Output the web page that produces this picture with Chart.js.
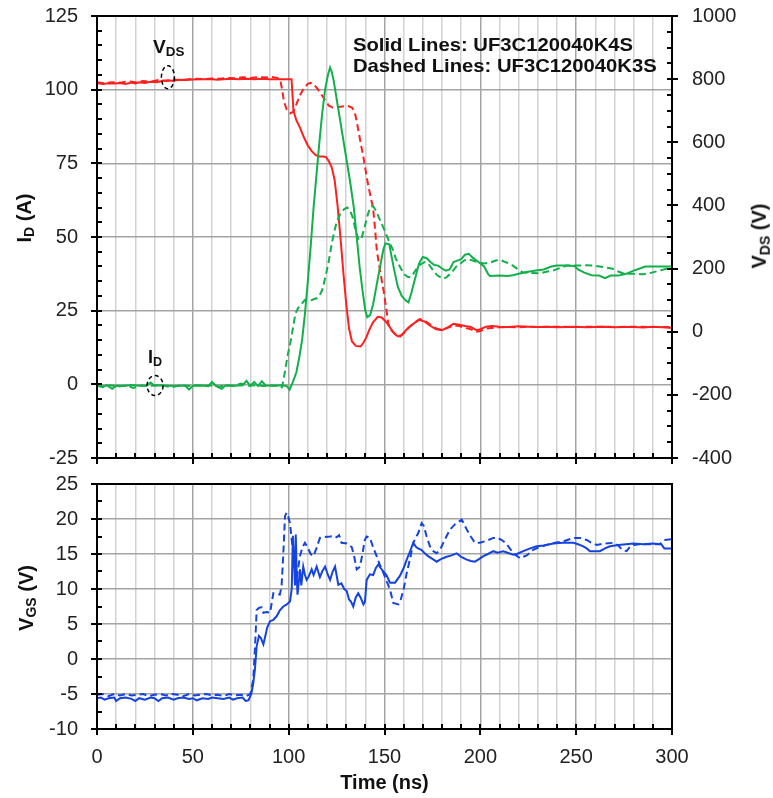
<!DOCTYPE html>
<html>
<head>
<meta charset="utf-8">
<script src="https://cdn.jsdelivr.net/npm/chart.js@4.4.0/dist/chart.umd.min.js"></script>
<style>
  body { margin: 0; background: #fff; }
  #wrap { position: relative; width: 773px; height: 798px; font-family: "Liberation Sans", Arial, sans-serif; color: #111; }
  canvas { position: absolute; left: 0; }
  .lbl { position: absolute; font-weight: bold; white-space: nowrap; line-height: 1; }
  .lbl sub { font-size: 0.7em; vertical-align: -0.25em; }
  .rot { transform: translate(-50%, -50%) rotate(-90deg); }
  .wide { transform: scaleX(1.065); transform-origin: left top; }
</style>
</head>
<body>
<div id="wrap">
  <canvas id="topChart" width="773" height="470" style="top:0"></canvas>
  <canvas id="botChart" width="773" height="328" style="top:470px"></canvas>

  <div class="lbl rot" style="left:25px; top:218px; font-size:20px;">I<sub>D</sub> (A)</div>
  <div class="lbl rot" style="left:760px; top:236px; font-size:20px;">V<sub>DS</sub> (V)</div>
  <div class="lbl rot" style="left:27px; top:598px; font-size:20px;">V<sub>GS</sub> (V)</div>

  <div class="lbl wide" style="left:153px; top:38px; font-size:18px;">V<sub>DS</sub></div>
  <div class="lbl" style="left:148px; top:348px; font-size:18px;">I<sub>D</sub></div>

  <div class="lbl wide" style="left:353px; top:35px; font-size:19px;">Solid Lines: UF3C120040K4S</div>
  <div class="lbl wide" style="left:353px; top:56px; font-size:19px;">Dashed Lines: UF3C120040K3S</div>
</div>

<script>
/* ---------- data: [time ns, value] ---------- */

// V_DS (V), right axis of the upper plot
const vdsSolid = [[0,788],[3,785],[6,787],[9,786],[12,788],[15,785],[18,789],[20,786],[22,790],[25,788],[28,792],[31,790],[34,794],[37,796],[40,795],[43,798],[46,797],[50,799],[55,800],[60,800],[63,798],[66,800],[70,801],[74,800],[78,801],[82,800],[86,801],[90,800],[94,800],[98,800],[101.5,800],[102.5,700],[104,670],[106,645],[108,615],[110,590],[112,572],[114,560],[116,555],[118,555],[119.5,553],[121,540],[122.5,520],[124,480],[125.5,400],[127,300],[128.5,190],[130,90],[131.5,10],[133,-30],[135,-45],[137.5,-47],[139,-35],[140.5,-18],[142,5],[144,30],[146.5,47],[148.5,45],[151,30],[153,12],[155.5,-8],[157,-15],[159,-10],[162,10],[165,25],[168,38],[171,32],[174,18],[177,8],[180,5],[183,14],[186,25],[189,22],[192,18],[195,15],[198,5],[200,8],[203,16],[206,18],[210,16],[215,15],[220,17],[225,16],[230,15],[235,16],[240,14],[245,15],[250,16],[255,14],[260,15],[265,16],[270,14],[275,15],[280,15],[285,13],[290,16],[295,14],[300,12]];

const vdsDashed = [[0,790],[4,787],[8,790],[12,789],[16,793],[20,790],[24,794],[28,792],[32,797],[36,795],[40,799],[44,797],[48,800],[52,801],[56,800],[60,802],[64,801],[68,804],[72,803],[76,806],[80,804],[84,806],[88,805],[91,807],[94,804],[95.5,800],[96.5,770],[97.5,730],[99,703],[101,692],[102.5,697],[104,720],[106,750],[108,772],[110,785],[111.5,788],[113,784],[115,770],[117,752],[119,733],[121,716],[123,710],[126,712],[129,714],[131,715],[133,710],[134.5,695],[136,650],[137.5,600],[139,553],[141,480],[143,420],[144,394],[145,330],[146,257],[147.5,200],[149.5,130],[151,70],[152,25],[153.5,5],[155,-5],[158,-16],[160,-5],[163,15],[166,30],[168.5,40],[171,35],[174,22],[177,10],[180,6],[183,12],[186,20],[189,18],[192,12],[195,8],[198,0],[200,2],[203,10],[206,12],[210,14],[215,15],[220,14],[225,16],[230,15],[240,16],[250,15],[260,16],[270,15],[280,16],[290,15],[300,15]];

// I_D (A), left axis of the upper plot
const idSolid = [[0,-0.5],[3,-1],[5,-0.3],[8,-1.5],[10,-0.5],[14,-0.6],[18,-0.2],[22,-0.5],[26,-0.4],[28,0.6],[30,-0.5],[33,-0.3],[37,-0.5],[42,-0.6],[46,-0.4],[48,-1.8],[50,-0.5],[55,-0.4],[58,-0.6],[60,0.8],[62,-0.5],[65,-1.5],[67,-0.4],[72,-0.5],[76,-0.3],[78,1.2],[80,-0.5],[82,0.8],[84,-0.6],[86,1.0],[88,-0.4],[92,-0.5],[96,-0.3],[99,-0.6],[100.5,-1.8],[102,0.5],[104,4],[105.5,9],[107,15],[108.5,24],[110,35],[111.5,47],[113,60],[114.5,71],[116,82],[117.5,92],[119,100],[120.5,105],[121.6,107.5],[122.5,106],[123.5,103],[125,97],[126.5,91],[128,85],[130,77],[132,69],[134,60],[135.5,50],[137,40],[138.5,32],[140,25],[141,22.8],[142.5,23.5],[144,27],[146,34],[148,41],[149.5,46],[150.5,47.8],[152.5,47.5],[153.5,44],[155,39],[157,33],[159,30],[161,28.5],[162.5,27.8],[164,31],[166,36],[168,41],[170,43.2],[172,42.8],[174,41.5],[176,40.5],[178,40.3],[180,39.3],[182,38.6],[184,39],[186,41.5],[188,42],[190,42.5],[192,44],[194,44.3],[196,43],[198,42],[200,41],[202,40],[204,37.5],[205,36.8],[210,36.9],[214,36.8],[217,37],[220,37.5],[225,38.2],[229,38.6],[233,39],[237,40],[240,40.3],[245,40.3],[249,40.2],[251,39],[254,38],[258,37],[262,36.9],[265,36],[268,36.9],[272,36.9],[276,37.5],[280,38.6],[284,39.5],[286,40],[290,40],[295,40],[300,40]];

const idDashed = [[0,-0.4],[4,-0.7],[7,-0.3],[11,-0.8],[15,-0.4],[19,-1.2],[23,-0.4],[27,-0.6],[31,-0.3],[35,-0.5],[39,-1.0],[43,-0.4],[47,-0.6],[51,-0.3],[56,-0.5],[60,-0.4],[64,-0.7],[68,-0.3],[72,-0.6],[75,0.3],[79,-0.5],[83,-0.3],[87,-0.6],[91,-0.4],[95,-0.5],[96.5,-1],[98,4],[99.5,10],[101,14.5],[102.5,20],[103.5,24],[105,26],[106.8,27.3],[108.5,28.7],[110,28.5],[112,28.6],[114.6,29.2],[116,30],[117.5,32],[119,36],[120.7,41],[122,46],[123.5,51],[125,55],[127,58],[129,59.5],[130.5,60],[132,59],[133.5,56.5],[135,52],[136.5,49],[138,49.5],[139.5,53],[141,57],[142.5,60],[144,60.5],[145.5,59],[147.5,56],[149.5,53],[151.5,50],[153,47.5],[154.6,45.4],[156,42.5],[158,40],[160,37.5],[162,36.5],[163.5,36.3],[165,37.5],[167,39.5],[169,40.8],[171,41.5],[173,40.8],[175,39],[177.5,37],[180.5,35.8],[182.5,36.4],[185,38],[187.5,40],[189.5,40.9],[191.5,42],[193.5,42.5],[196,42],[199,41.4],[202,41],[205,41.3],[208,42],[210.5,42.2],[213,41.5],[215.5,40.9],[218,39.8],[222,38],[226,37.8],[231,37.7],[235,38.3],[238,38.6],[242,39.6],[245,40.3],[250,40.3],[255,40.4],[259,40.3],[264,39.8],[269,39.2],[272,38.3],[275,37.5],[280,37.5],[284,37.4],[287,37.5],[290,38],[293.5,38.6],[297,39.2],[300,39.7]];

// V_GS (V), lower plot
const vgsSolid = [[0,-5.6],[2,-5.5],[4,-5.8],[6,-5.6],[9,-5.5],[10,-6.0],[12,-5.6],[15,-5.5],[18,-5.7],[20,-6.0],[22,-5.6],[25,-5.8],[28,-5.5],[30,-5.6],[32,-6.0],[34,-5.6],[37,-5.5],[40,-5.8],[42,-5.6],[45,-5.5],[48,-5.7],[50,-5.6],[52,-5.9],[55,-5.6],[58,-5.7],[60,-5.5],[63,-5.6],[66,-5.7],[69,-5.5],[71,-5.8],[73,-5.6],[76,-5.5],[77.5,-6.0],[79,-5.9],[80.5,-5.0],[81.5,-3.5],[82.4,-1.5],[83.3,1.8],[84.5,3.3],[85.5,3.0],[86.8,2.1],[88,3.5],[88.8,4.5],[90.3,5.4],[92,5.6],[93.7,6.1],[95.5,7.0],[97.2,7.5],[99,7.8],[100.7,8.2],[101.6,10],[102.2,17.6],[102.8,14],[103.3,10.5],[103.7,17.8],[104.2,12],[104.6,9.2],[105.3,11],[105.9,12.8],[106.6,10.5],[107.6,13.2],[108.5,12],[109.4,11.3],[110.5,11.8],[112,12.8],[113,12],[114.6,13.2],[116.3,11.7],[117.5,12.5],[119,13.2],[120.5,12],[121.6,11.3],[123,12.5],[124.2,13.2],[125.9,10.6],[127.5,10.8],[129,10],[130.3,9.7],[131.5,8.5],[132.5,8.2],[133.7,7.5],[135,8.8],[136.3,9.4],[137.5,8.8],[139,7.8],[139.8,8.2],[140.7,11.3],[142.4,12.1],[144.1,12],[145.5,13],[146.8,13.5],[148,13],[149.4,12.5],[151,12],[152.9,10.9],[155.5,10.9],[158.1,11.9],[160,13],[161.6,14.2],[163.5,15.5],[165,16.6],[166.5,16.0],[167.5,15.8],[169.2,15.6],[171,15.1],[172.7,14.7],[175,14.3],[177.2,13.9],[179,14.2],[180.5,14.4],[182.4,14.6],[185,14.8],[187.6,15.1],[190,14.6],[192.9,14.2],[195,14],[197.2,13.9],[199.5,14.3],[201.6,14.7],[204,15],[206.8,15.4],[209,15.2],[212,15.4],[215,15.1],[217.2,14.9],[219,15],[222.4,15.4],[226,15.8],[229.4,16.1],[233,16.2],[238.1,16.5],[243,16.6],[248.5,16.6],[251,16.4],[253.7,16.1],[255.5,15.8],[257.2,15.4],[260,15.4],[262.4,15.4],[265,15.8],[267.6,16.1],[272,16.3],[276,16.4],[279.8,16.5],[285,16.4],[290,16.5],[294.4,16.4],[296,15.8],[300,15.8]];

const vgsDashed = [[0,-5.1],[3,-5.0],[6,-5.3],[9,-5.0],[12,-5.2],[15,-5.0],[18,-5.2],[21,-5.1],[24,-5.0],[27,-5.3],[30,-5.1],[33,-5.0],[36,-5.2],[39,-5.0],[42,-5.1],[45,-5.3],[48,-5.0],[51,-5.2],[54,-5.1],[57,-5.0],[60,-5.2],[63,-5.1],[66,-5.3],[69,-5.0],[72,-5.2],[75,-5.1],[78,-5.3],[80,-5.0],[81.5,-3],[82.5,2],[83.3,7.0],[84.5,7.3],[85.9,7.4],[86.8,6.6],[88.5,6.7],[90.3,6.6],[92,9.4],[93.7,9.3],[95.4,9.2],[96.3,10.4],[97.2,15],[98.1,20.4],[98.9,20.9],[99.8,20.3],[100.7,19.4],[101.6,17],[102.4,15.1],[103.3,13],[104.1,11.3],[105,13],[105.9,14.7],[107.2,16],[108.5,16.6],[110.3,15.7],[111.5,15],[112.9,14.7],[114.5,15.8],[116.3,17.3],[118,17.4],[121.6,17.5],[123.5,17.6],[125,17.4],[126.3,17.7],[127.6,16.6],[130.3,16.5],[132.9,16],[134.3,14.5],[135.5,12.8],[137.2,13.2],[138.5,15],[139.7,17],[140.7,17.5],[142.4,17.3],[144,16],[145.9,14.7],[147.5,13.5],[149.4,12.3],[151,11.2],[152.9,9.9],[154.6,8.0],[157.2,7.8],[158.5,8.5],[160,10],[161.6,12.3],[163.5,14.5],[165,16.6],[167.6,18],[169.4,19.4],[170.5,19.0],[172,17.5],[173.7,16.1],[175.5,15.4],[177.2,15.1],[179,15.6],[181,16.8],[184.2,18.5],[187,19.3],[190.3,19.9],[191.5,19.3],[192.9,18.5],[195,17.5],[197.2,16.6],[199.8,16.6],[203.3,16.9],[206.8,17.3],[209,17.3],[211.2,17.0],[213,16.6],[214.6,16.1],[217.2,15.1],[220.7,14.4],[222.5,14.6],[224.2,14.8],[227.6,15.6],[231,16],[234.6,16.3],[239,16.6],[243.3,16.8],[248.5,17.3],[252,17.3],[255.5,17.0],[258,16.6],[260.7,16.3],[265,16.5],[269.4,16.6],[272,16.2],[274,15.6],[276.3,15.4],[278,16],[279.8,16.3],[283,16.4],[286.7,16.4],[290,16.4],[293.6,16.4],[296,17.0],[300,17.1]];

// axis ranges and tick steps
const xRange = [0, 300],     xMajor = 50,  xMinor = 10;
const idRange = [-25, 125],  idMajor = 25, idMinor = 5;
const vdsRange = [-400, 1000], vdsMajor = 200, vdsMinor = 50;
const vgsRange = [-10, 25],  vgsMajor = 5, vgsMinor = 2.5;

// dashed circles marking which trace belongs to which axis: [time, value, axis]
const circleMarks = [[37, 806, 'y2'], [30.3, -0.4, 'y']];

/* ---------- styling ---------- */
const RED = '#ff1f1f', GREEN = '#12b04a', BLUE = '#1443e0';
const FONT = '"Liberation Sans", Arial, sans-serif';
const GRID_MINOR = '#d2d2d2', GRID_MAJOR = '#a4a4a4';
const PLOT_LEFT = 97, PLOT_RIGHT = 672;

const pts = arr => arr.map(([x, y]) => ({ x, y }));
const isMul = (v, m) => Math.abs(v / m - Math.round(v / m)) < 1e-6;

/* frame around the plot area plus inward minor / crossing major tick marks */
const frameTicks = {
  id: 'frameTicks',
  afterDatasetsDraw(chart, args, opts) {
    const { ctx, chartArea: a } = chart;
    ctx.save();
    ctx.strokeStyle = '#000';
    ctx.lineWidth = 2;
    (opts.marks || []).forEach(m => {
      const s = chart.scales[m.id];
      for (let v = s.min; v <= s.max + 1e-9; v += m.minor) {
        const major = isMul(v, m.major);
        const p = Math.round(s.getPixelForValue(v));
        const inn = 5, out = major ? 6 : 0;
        ctx.beginPath();
        if (m.side === 'bottom') { ctx.moveTo(p, a.bottom - inn); ctx.lineTo(p, a.bottom + out); }
        else if (m.side === 'left') { ctx.moveTo(a.left - out, p); ctx.lineTo(a.left + inn, p); }
        else { ctx.moveTo(a.right + out, p); ctx.lineTo(a.right - inn, p); }
        ctx.stroke();
      }
    });
    ctx.strokeRect(a.left, a.top, a.right - a.left, a.bottom - a.top);

    // dashed ellipses
    (opts.circles || []).forEach(([t, v, axis]) => {
      const cx = chart.scales.x.getPixelForValue(t);
      const cy = chart.scales[axis].getPixelForValue(v);
      ctx.lineWidth = 1.5;
      ctx.setLineDash([4, 3]);
      ctx.beginPath();
      ctx.ellipse(cx, cy, axis === 'y2' ? 6.5 : 8, axis === 'y2' ? 11.5 : 10, 0, 0, Math.PI * 2);
      ctx.stroke();
      ctx.setLineDash([]);
    });
    ctx.restore();
  }
};

function xScale(showLabels, height) {
  return {
    type: 'linear', min: xRange[0], max: xRange[1],
    afterFit: s => { s.height = height; },
    border: { display: false },
    grid: {
      drawTicks: false, lineWidth: 1.5,
      color: c => isMul(c.tick.value, xMajor) ? GRID_MAJOR : GRID_MINOR
    },
    ticks: {
      display: showLabels, stepSize: xMinor, autoSkip: false, maxRotation: 0,
      padding: 16, color: '#222', font: { family: FONT, size: 20 },
      callback: v => isMul(v, xMajor) ? String(v) : ''
    },
    title: {
      display: showLabels, text: 'Time (ns)', color: '#111',
      font: { family: FONT, size: 20, weight: 'bold' }, padding: { top: 0, bottom: 3 }
    }
  };
}

// vertical axes: fixed width, and no label overhang padding so the plot area is exact
function yScale(range, step, side, width, pad) {
  return {
    type: 'linear', position: side, min: range[0], max: range[1],
    afterFit: s => { s.width = width; s.paddingTop = 0; s.paddingBottom = 0; },
    border: { display: false },
    grid: { drawTicks: false, lineWidth: 1.5, color: GRID_MAJOR, drawOnChartArea: side === 'left' },
    ticks: {
      stepSize: step, padding: pad, color: '#222', font: { family: FONT, size: 20 },
      callback: v => String(v)
    }
  };
}

const lineDs = (data, color, axis, dashed) => ({
  data: pts(data), yAxisID: axis,
  borderColor: color, borderWidth: 2, borderDash: dashed ? [7, 4] : [],
  pointRadius: 0, tension: 0, fill: false
});

const common = {
  responsive: false, animation: false,
  plugins: { legend: { display: false }, tooltip: { enabled: false } },
  events: []
};

/* ---------- upper plot: I_D and V_DS ---------- */
new Chart(document.getElementById('topChart'), {
  type: 'line',
  data: {
    datasets: [
      lineDs(idSolid, GREEN, 'y', false),
      lineDs(idDashed, GREEN, 'y', true),
      lineDs(vdsSolid, RED, 'y2', false),
      lineDs(vdsDashed, RED, 'y2', true)
    ]
  },
  options: Object.assign({}, common, {
    layout: { padding: { top: 16, bottom: 0, left: 0, right: 0 } },
    scales: {
      x: xScale(false, 12),
      y: yScale(idRange, idMajor, 'left', PLOT_LEFT, 19),
      y2: yScale(vdsRange, vdsMajor, 'right', 773 - PLOT_RIGHT, 20)
    },
    plugins: Object.assign({}, common.plugins, {
      frameTicks: {
        marks: [
          { id: 'x', side: 'bottom', major: xMajor, minor: xMinor },
          { id: 'y', side: 'left', major: idMajor, minor: idMinor },
          { id: 'y2', side: 'right', major: vdsMajor, minor: vdsMinor }
        ],
        circles: circleMarks
      }
    })
  }),
  plugins: [frameTicks]
});

/* ---------- lower plot: V_GS ---------- */
new Chart(document.getElementById('botChart'), {
  type: 'line',
  data: {
    datasets: [
      lineDs(vgsSolid, BLUE, 'y', false),
      lineDs(vgsDashed, BLUE, 'y', true)
    ]
  },
  options: Object.assign({}, common, {
    layout: { padding: { top: 14, bottom: 0, left: 0, right: 773 - PLOT_RIGHT } },
    scales: {
      x: xScale(true, 69),
      y: yScale(vgsRange, vgsMajor, 'left', PLOT_LEFT, 19)
    },
    plugins: Object.assign({}, common.plugins, {
      frameTicks: {
        marks: [
          { id: 'x', side: 'bottom', major: xMajor, minor: xMinor },
          { id: 'y', side: 'left', major: vgsMajor, minor: vgsMinor }
        ]
      }
    })
  }),
  plugins: [frameTicks]
});
</script>
</body>
</html>
